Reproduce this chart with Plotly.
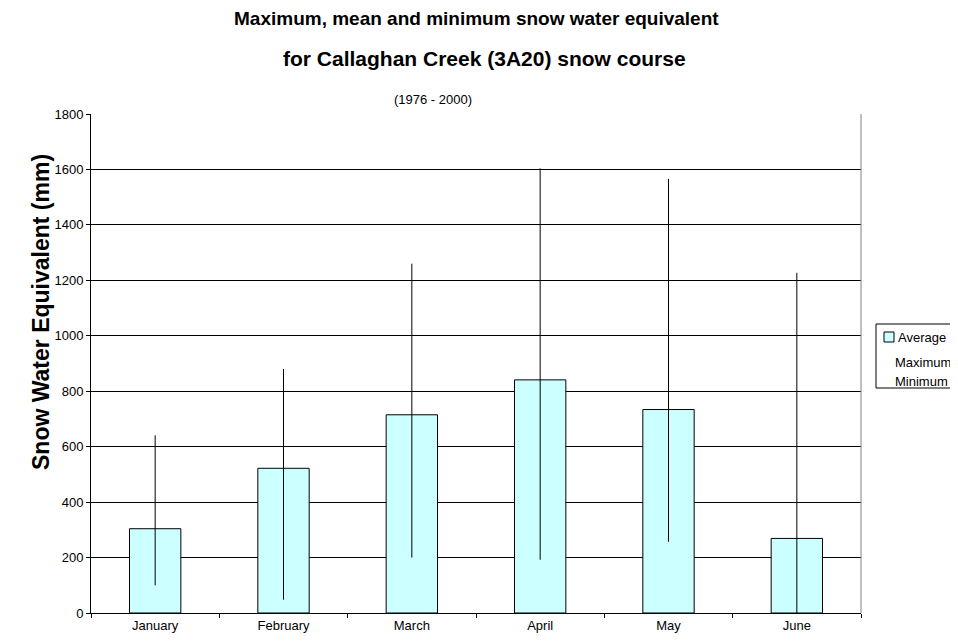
import plotly.graph_objects as go

# Snow course summary, Callaghan Creek (3A20), 1976 - 2000
months = ["January", "February", "March", "April", "May", "June"]
average_swe = [304, 522, 715, 841, 734, 269]
maximum_swe = [641, 880, 1260, 1604, 1566, 1227]
minimum_swe = [100, 48, 200, 192, 257, 0]

y_ticks = [0, 200, 400, 600, 800, 1000, 1200, 1400, 1600, 1800]
legend_labels = ["Average", "Maximum", "Minimum"]

FONT = "Liberation Sans, Arial, sans-serif"

# the page puts the figure 8px in from the top-left corner,
# so the figure is 8px smaller and the margins are measured from there
OFF = 8
W, H = 958 - OFF, 644 - OFF
L, R, T, B = 91 - OFF, 97, 114 - OFF, 31

err_up = [mx - av for mx, av in zip(maximum_swe, average_swe)]
err_down = [av - mn for av, mn in zip(average_swe, minimum_swe)]

fig = go.Figure()

# mean as bars, max/min as the high-low line through each bar
fig.add_trace(go.Bar(
    x=months, y=average_swe, name="Average",
    marker=dict(color="#CCFFFF", line=dict(color="#000000", width=1)),
    error_y=dict(type="data", symmetric=False, array=err_up, arrayminus=err_down,
                 color="#000000", thickness=1, width=0),
))


def px_x(p):
    # screen pixel -> paper x
    return (p - OFF - L) / (W - L - R)


def px_y(p):
    # screen pixel -> paper y
    return (H - B - (p - OFF)) / (H - T - B)


def label(text, x, y, size, **kw):
    fig.add_annotation(text=text, xref="paper", yref="paper",
                       x=px_x(x), y=px_y(y), yanchor="middle", showarrow=False,
                       font=dict(size=size, family=FONT, color="#000000"), **kw)


# titles
label("<b>Maximum, mean and minimum snow water equivalent</b>", 476, 19, 19, xanchor="center")
label("<b>for Callaghan Creek (3A20) snow course</b>", 485, 58, 21, xanchor="center")
label("(1976 - 2000)", 433, 100, 13, xanchor="center")

# y axis title sits above the middle of the axis in the original
label("<b>Snow Water Equivalent (mm)</b>", 41, 312, 23, xanchor="center", textangle=-90)

# legend box drawn in the right margin, like the original
fig.add_shape(type="rect", xref="paper", yref="paper",
              x0=px_x(876), x1=px_x(962), y0=px_y(388), y1=px_y(324),
              line=dict(color="#000000", width=1), fillcolor="white")
fig.add_shape(type="rect", xref="paper", yref="paper",
              x0=px_x(884), x1=px_x(894), y0=px_y(342), y1=px_y(332),
              line=dict(color="#000000", width=1), fillcolor="#CCFFFF")
for name, ly, lx in zip(legend_labels, [337, 362, 381], [896, 893, 893]):
    label(name, lx, ly, 13, xanchor="left")

fig.update_layout(
    width=W, height=H,
    margin=dict(l=L, r=R, t=T, b=B, autoexpand=False),
    paper_bgcolor="white", plot_bgcolor="white",
    font=dict(family=FONT, size=13, color="#000000"),
    bargap=0.6,
    showlegend=False,
    xaxis=dict(
        type="category", tickson="boundaries",
        showline=True, linecolor="#000000", linewidth=1,
        ticks="outside", ticklen=4, tickcolor="#000000",
        showgrid=False, tickfont=dict(size=13),
    ),
    # second x axis only to give the ticks that cross the axis line
    xaxis2=dict(
        overlaying="x", range=[-0.5, 5.5], tickvals=[-0.5, 0.5, 1.5, 2.5, 3.5, 4.5, 5.5],
        ticks="inside", ticklen=4, tickcolor="#000000", showticklabels=False,
        showgrid=False, showline=False, zeroline=False, side="bottom",
    ),
    yaxis=dict(
        range=[0, 1800], tickvals=y_ticks,
        showline=True, linecolor="#000000", linewidth=1,
        ticks="outside", ticklen=4, tickcolor="#000000",
        showgrid=True, gridcolor="#000000", gridwidth=1,
        zeroline=False, tickfont=dict(size=13),
    ),
    yaxis2=dict(
        overlaying="y", range=[0, 1800], tickvals=y_ticks,
        ticks="inside", ticklen=4, tickcolor="#000000", showticklabels=False,
        showgrid=False, showline=False, zeroline=False, side="left",
    ),
)

# gray right edge of the plot area
fig.add_shape(type="line", xref="paper", yref="paper", x0=1, x1=1, y0=0, y1=1,
              line=dict(color="#808080", width=1))

fig.write_html("out.html")
